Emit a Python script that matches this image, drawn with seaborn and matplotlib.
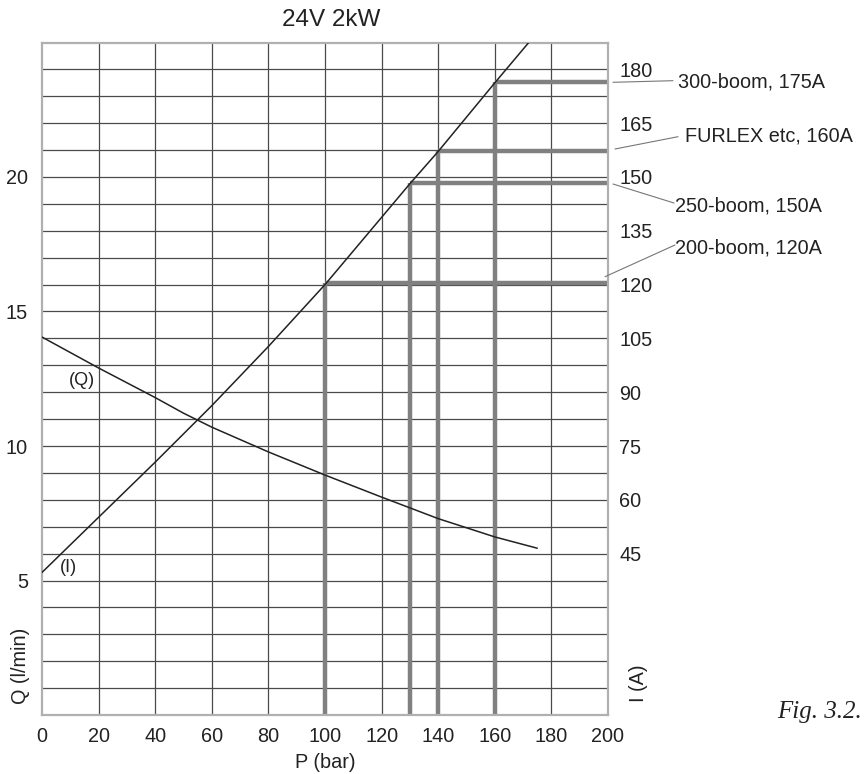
import matplotlib
matplotlib.use("Agg")
import matplotlib.pyplot as plt
import seaborn as sns
import numpy as np
import pandas as pd

# ---- data ----
P_current = [0, 20, 40, 60, 80, 100, 130, 140, 160, 172]
Q_current = [5.3, 7.35, 9.4, 11.5, 13.7, 16.0, 19.75, 20.95, 23.5, 25.0]   # I curve in Q units (I = 7.5*Q)

P_flow = [0, 20, 40, 50, 60, 80, 100, 120, 140, 160, 175]
Q_flow = [14.05, 12.9, 11.8, 11.22, 10.7, 9.78, 8.92, 8.1, 7.3, 6.62, 6.2]

boom_P = [100, 130, 140, 160]
boom_Q = [16.05, 19.77, 20.98, 23.55]
boom_labels = ["200-boom, 120A", "250-boom, 150A", "FURLEX etc, 160A", "300-boom, 175A"]

x_ticks = list(range(0, 201, 20))
q_ticks = [5, 10, 15, 20]
i_ticks = list(range(45, 181, 15))
I_PER_Q = 7.5

sns.set_theme(style="white")
plt.rcParams['font.family'] = ['Liberation Sans', 'DejaVu Sans']

W, H = 868, 774
fig = plt.figure(figsize=(W / 100, H / 100), dpi=100)
ax = fig.add_axes([42 / W, 1 - 715 / H, (608 - 42) / W, (715 - 42.5) / H])

ax.set_xlim(0, 200)
ax.set_ylim(0, 25)

# grid
for q in range(1, 25):
    ax.axhline(q, color="#4a4a4a", lw=0.9, zorder=1)
for p in range(20, 200, 20):
    ax.axvline(p, color="#4a4a4a", lw=0.9, zorder=1)

# gray boom lines
for p, q in zip(boom_P, boom_Q):
    ax.plot([p, p], [0, q], color="#808080", lw=3.2, solid_capstyle="butt", zorder=2)
    ax.plot([p, 200], [q, q], color="#808080", lw=3.2, solid_capstyle="butt", zorder=2)

df_i = pd.DataFrame({"P": P_current, "Q": Q_current})
df_q = pd.DataFrame({"P": P_flow, "Q": Q_flow})
sns.lineplot(data=df_i, x="P", y="Q", ax=ax, color="#222222", lw=1.1, zorder=3)
sns.lineplot(data=df_q, x="P", y="Q", ax=ax, color="#222222", lw=1.1, zorder=3)

for s in ax.spines.values():
    s.set_color("#b0b0b0")
    s.set_linewidth(1.6)

ax.set_xticks(x_ticks)
ax.set_yticks(q_ticks)
ax.tick_params(axis="both", length=0, labelsize=14.3, colors="#222222")
ax.tick_params(axis="y", pad=10)
ax.tick_params(axis="x", pad=9)
ax.set_xlabel("")
ax.set_ylabel("")

ax2 = ax.twinx()
ax2.set_ylim(0, 25 * I_PER_Q)
ax2.set_yticks(i_ticks)
ax2.tick_params(axis="y", length=0, labelsize=14.3, colors="#222222", pad=8)
for s in ax2.spines.values():
    s.set_visible(False)
ax2.grid(False)

# texts
fig.text(331 / W, 1 - 20 / H, "24V 2kW", ha="center", va="center", fontsize=17.5, color="#222222")
fig.text(325 / W, 1 - 763 / H, "P (bar)", ha="center", va="center", fontsize=14.3, color="#222222")
fig.text(21 / W, 1 - 666 / H, "Q (l/min)", ha="center", va="center", rotation=90, fontsize=14.3, color="#222222")
fig.text(638 / W, 1 - 683 / H, "I (A)", ha="center", va="center", rotation=90, fontsize=14.3, color="#222222")
fig.text(862 / W, 1 - 712 / H, "Fig. 3.2.", ha="right", va="center", fontsize=18,
         family=['Liberation Serif', 'DejaVu Serif'], style="italic", color="#222222")
ax.text(14.0, 12.45, "(Q)", ha="center", va="center", fontsize=13, color="#222222")
ax.text(9.3, 5.5, "(I)", ha="center", va="center", fontsize=13, color="#222222")

# leader lines and labels (figure pixel coordinates for placement)
leaders = {
    "300-boom, 175A": ((613, 82.3), (673, 80.7), (678, 81.7)),
    "FURLEX etc, 160A": ((615, 149), (678, 136.7), (685, 136)),
    "250-boom, 150A": ((613, 184), (674, 203), (675, 206)),
    "200-boom, 120A": ((605, 276.7), (675, 245), (675, 248)),
}
for lab in boom_labels:
    (x0, y0), (x1, y1), (tx, ty) = leaders[lab]
    fig.add_artist(plt.Line2D([x0 / W, x1 / W], [1 - y0 / H, 1 - y1 / H],
                              color="#777777", lw=0.8, transform=fig.transFigure))
    fig.text(tx / W, 1 - ty / H, lab, ha="left", va="center", fontsize=14.3, color="#222222")

fig.savefig("out.png", dpi=100)
